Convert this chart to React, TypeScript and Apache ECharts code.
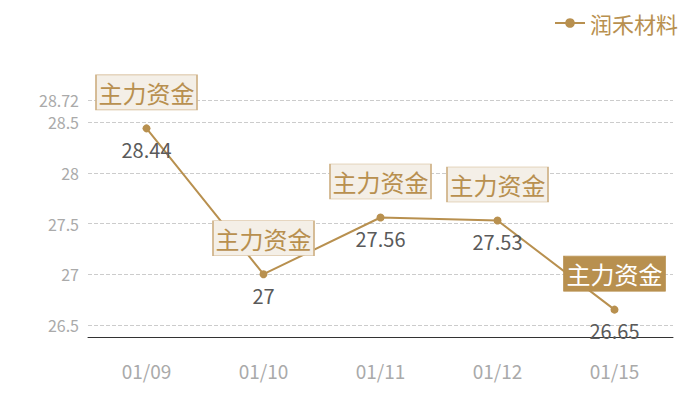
import React, { useEffect, useRef } from 'react';
import * as echarts from 'echarts';

const categories = ['01/09', '01/10', '01/11', '01/12', '01/15'];
const values = [28.44, 27, 27.56, 27.53, 26.65];
const seriesName = '润禾材料';
const markText = '主力资金';
// which mark box is drawn filled
const highlighted = [false, false, false, false, true];
const yMin = 26.38;
const yMax = 28.72;

const GOLD = '#b8904f';
const FONT = '"Noto Sans CJK SC", "Noto Sans", sans-serif';

const App: React.FC = () => {
    const chartRef = useRef<HTMLDivElement | null>(null);

    useEffect(() => {
        if (!chartRef.current) return;
        const chart = echarts.init(chartRef.current, undefined, { renderer: 'svg' });

        const marks = categories.map((c, i) => ({
            coord: [c, values[i]],
            value: markText,
            itemStyle: highlighted[i]
                ? { color: GOLD, borderColor: GOLD, borderWidth: 1 }
                : { color: '#f4efe7', borderColor: '#cfb287', borderWidth: 1 },
            label: {
                color: highlighted[i] ? '#ffffff' : GOLD,
            },
        }));

        chart.setOption({
            animation: false,
            textStyle: { fontFamily: FONT },
            legend: {
                right: 14,
                top: 4,
                itemWidth: 30,
                itemHeight: 12,
                itemGap: 6,
                padding: 0,
                textStyle: { color: GOLD, fontSize: 22, fontFamily: FONT },
                data: [seriesName],
            },
            grid: { left: 80, right: 19, top: 92, bottom: 55 },
            xAxis: {
                type: 'category',
                data: categories,
                axisLine: { lineStyle: { color: '#333', width: 1 } },
                axisTick: { show: false },
                axisLabel: { color: '#aaa', fontSize: 19, margin: 24, fontFamily: FONT },
            },
            yAxis: {
                type: 'value',
                min: yMin,
                max: yMax,
                splitNumber: 5,
                axisLine: { show: false },
                axisTick: { show: false },
                axisLabel: { color: '#aaa', fontSize: 16, margin: 9, showMinLabel: false, fontFamily: FONT },
                splitLine: { lineStyle: { color: '#ccc', type: 'dashed' } },
            },
            series: [
                {
                    name: seriesName,
                    type: 'line',
                    data: values,
                    symbol: 'circle',
                    symbolSize: 8,
                    itemStyle: { color: GOLD },
                    lineStyle: { color: GOLD, width: 2 },
                    label: {
                        show: true,
                        position: 'bottom',
                        distance: 7,
                        color: '#5a5a5a',
                        fontSize: 20,
                        fontFamily: FONT,
                    },
                    markPoint: {
                        symbol: 'rect',
                        symbolSize: [101, 35],
                        symbolOffset: [0, -36],
                        label: {
                            show: true,
                            position: 'inside',
                            fontSize: 24,
                            fontFamily: FONT,
                            formatter: markText,
                        },
                        data: marks,
                    },
                },
            ],
        });

        return () => {
            chart.dispose();
        };
    }, []);

    return <div ref={chartRef} style={{ width: '684px', height: '384px' }} />;
};

export default App;
